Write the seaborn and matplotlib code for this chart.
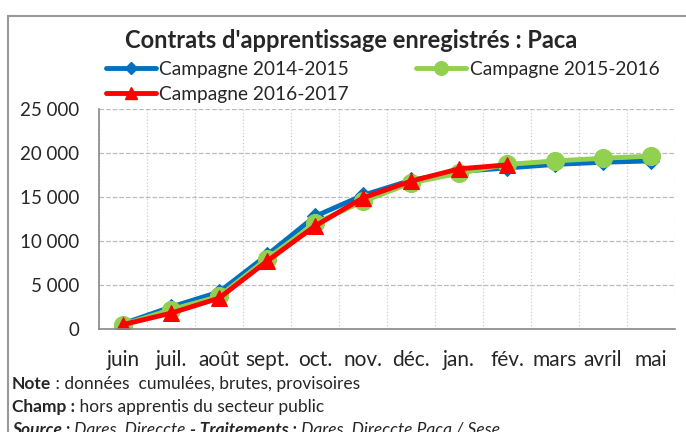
import pandas as pd
import matplotlib.pyplot as plt
import seaborn as sns
from matplotlib.lines import Line2D
from matplotlib.ticker import FuncFormatter, FixedLocator

months = ['juin', 'juil.', 'août', 'sept.', 'oct.', 'nov.', 'déc.',
          'jan.', 'fév.', 'mars', 'avril', 'mai']
camp_2014 = [600, 2500, 4200, 8400, 12800, 15200, 16900, 17900, 18300, 18700, 18950, 19100]
camp_2015 = [500, 2200, 3700, 8000, 12000, 14500, 16600, 17700, 18700, 19100, 19400, 19650]
camp_2016 = [500, 1800, 3500, 7700, 11700, 14900, 16800, 18200, 18650]

series = {
    'Campagne 2014-2015': camp_2014,
    'Campagne 2015-2016': camp_2015,
    'Campagne 2016-2017': camp_2016,
}
styles = {
    'Campagne 2014-2015': dict(color='#0070C0', marker='D', markersize=8),
    'Campagne 2015-2016': dict(color='#92D050', marker='o', markersize=13),
    'Campagne 2016-2017': dict(color='#FF0000', marker='^', markersize=12),
}

rows = []
for name, vals in series.items():
    for i, v in enumerate(vals):
        rows.append({'serie': name, 'pos': i, 'value': v})
df = pd.DataFrame(rows)

sns.set_style('white')
plt.rcParams['font.family'] = ['Lato', 'DejaVu Sans']

fig = plt.figure(figsize=(6.86, 4.32), dpi=100)
ax = fig.add_axes([99 / 686, 1 - 329 / 432, 576 / 686, 220 / 432])

handles = {}
for name in series:
    st = styles[name]
    sns.lineplot(data=df[df['serie'] == name], x='pos', y='value', ax=ax,
                 color=st['color'], marker=st['marker'], markersize=st['markersize'],
                 markeredgecolor=st['color'], linewidth=3.5, legend=False)
    handles[name] = Line2D([], [], color=st['color'], marker=st['marker'],
                           markersize=st['markersize'] * 0.75, linewidth=3.5)

ax.set_xlim(-0.5, 11.5)
ax.set_ylim(0, 25000)
ax.set_xticks(range(12))
ax.set_xticklabels(months)
ax.xaxis.set_minor_locator(FixedLocator([i - 0.5 for i in range(13)]))
ax.tick_params(axis='x', which='major', length=0, pad=15, labelsize=15)
ax.tick_params(axis='x', which='minor', length=5, color='#888888', width=1, direction='out')
ax.set_yticks(range(0, 25001, 5000))
ax.yaxis.set_major_formatter(FuncFormatter(lambda v, p: f'{int(v):,}'.replace(',', ' ')))
ax.tick_params(axis='y', length=5, color='#888888', width=1, direction='out', pad=9, labelsize=13.5)
ax.grid(axis='y', which='major', color='#BBBBBB', linestyle='--', linewidth=0.9)
ax.grid(axis='x', which='minor', color='#CCCCCC', linestyle=':', linewidth=0.9)
ax.set_xlabel('')
ax.set_ylabel('')
for s in ['top', 'right']:
    ax.spines[s].set_visible(False)
for s in ['left', 'bottom']:
    ax.spines[s].set_color('#888888')
    ax.spines[s].set_linewidth(1.2)

fig.text(351 / 686, 1 - 41 / 432, "Contrats d'apprentissage enregistrés : Paca",
         ha='center', va='center', fontsize=17, fontweight='bold')

order = ['Campagne 2014-2015', 'Campagne 2016-2017', 'Campagne 2015-2016']
fig.legend([handles[n] for n in order], order, ncol=2, frameon=False,
           loc='upper left', bbox_to_anchor=(98 / 686, 1 - 53 / 432),
           fontsize=13.8, handlelength=2.6, handletextpad=0.2,
           columnspacing=3.5, labelspacing=0.42, borderaxespad=0)

# chart border
fig.add_artist(Line2D([8 / 686, 8 / 686], [0, 1 - 16 / 432], color='#999999', linewidth=1.5))
fig.add_artist(Line2D([8 / 686, 1], [1 - 16 / 432, 1 - 16 / 432], color='#999999', linewidth=1.5))


def text_run(y_px, parts, fs=12.5):
    # parts: list of (text, weight, style), drawn one after the other
    renderer = fig.canvas.get_renderer()
    x = 12 / 686
    for txt, weight, style in parts:
        t = fig.text(x, 1 - y_px / 432, txt, fontsize=fs, va='center',
                     fontweight=weight, fontstyle=style)
        bb = t.get_window_extent(renderer=renderer)
        x = bb.x1 / fig.bbox.width


text_run(384, [('Note', 'bold', 'normal'), (' : données  cumulées, brutes, provisoires', 'normal', 'normal')])
text_run(407, [('Champ :', 'bold', 'normal'), (' hors apprentis du secteur public', 'normal', 'normal')])
text_run(430, [('Source :', 'bold', 'italic'), (' Dares, Direccte ', 'normal', 'italic'),
               ('- Traitements :', 'bold', 'italic'), (' Dares, Direccte Paca / Sese', 'normal', 'italic')])

fig.savefig('out.png', dpi=100)
